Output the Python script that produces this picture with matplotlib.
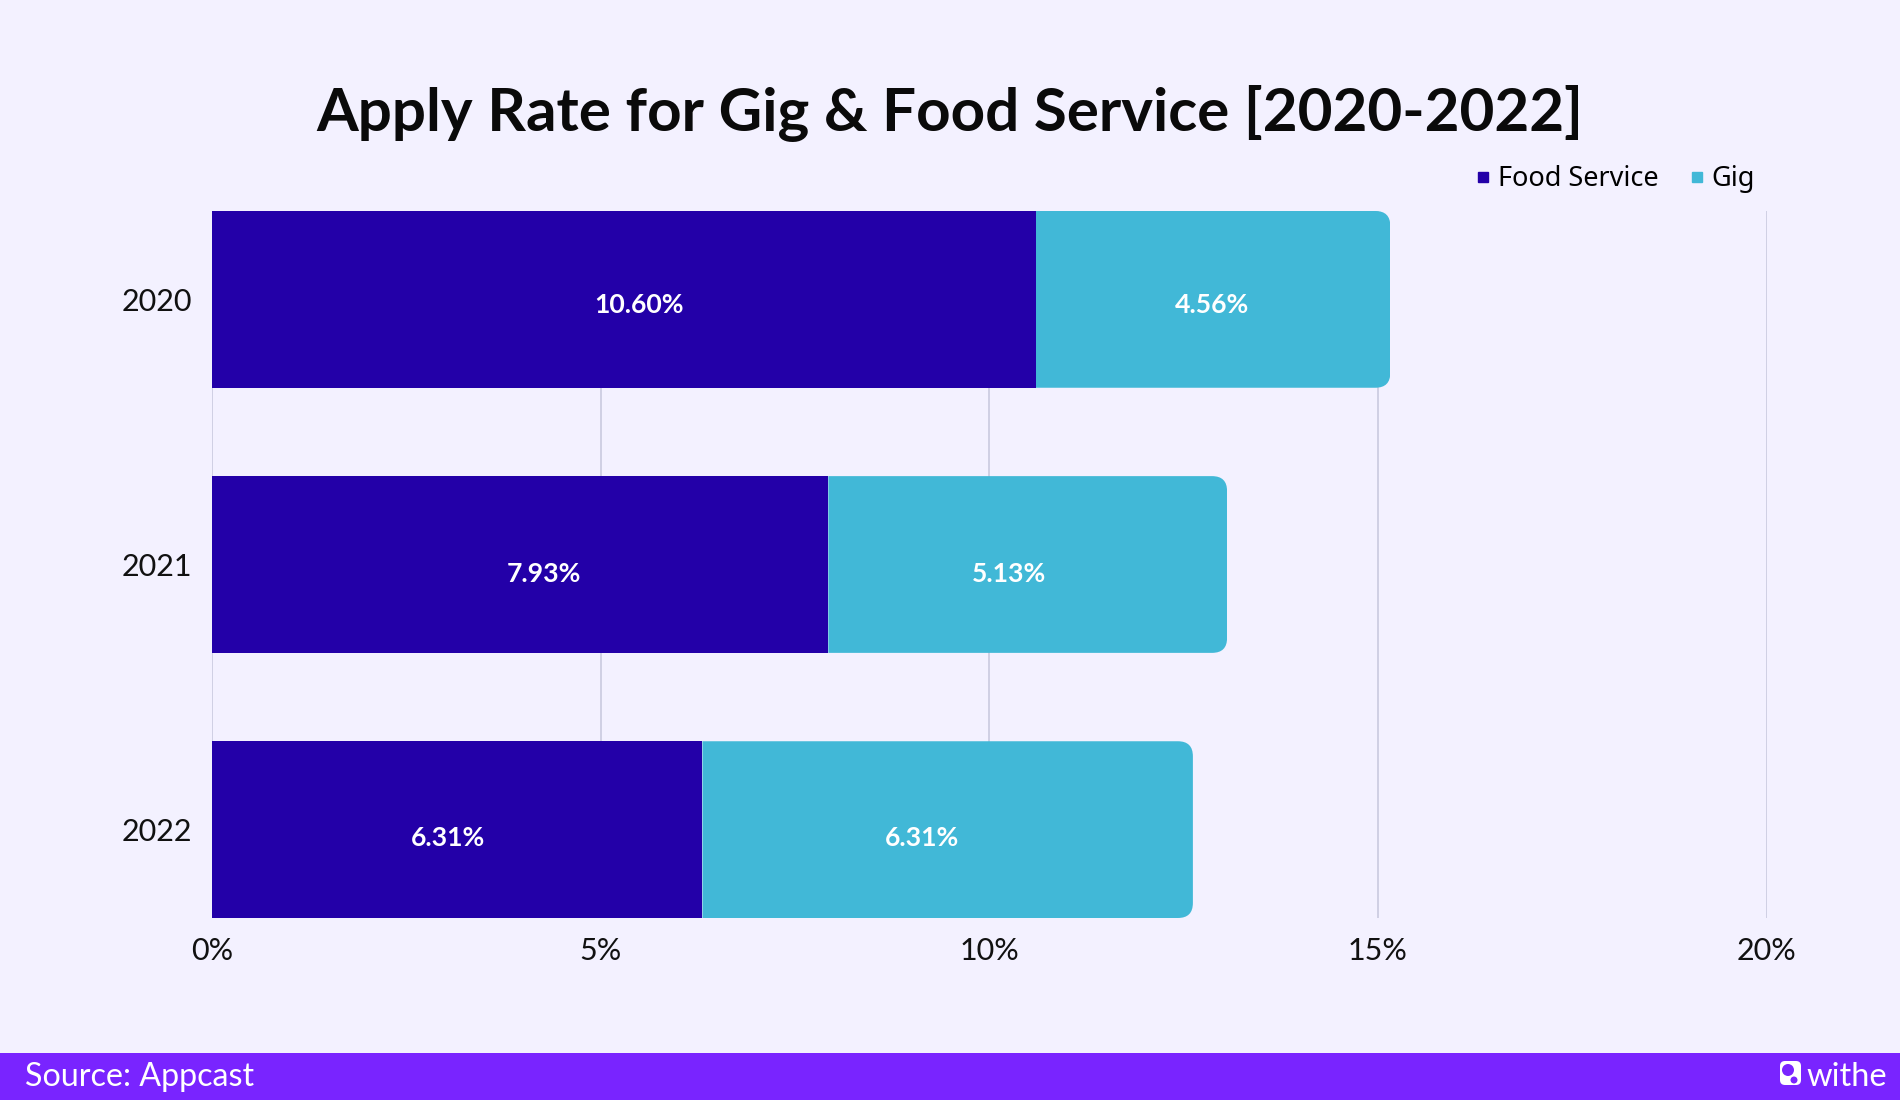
import matplotlib
matplotlib.use('Agg')
import matplotlib.pyplot as plt
from matplotlib.lines import Line2D
from matplotlib.patches import FancyBboxPatch, Rectangle, Circle
from matplotlib.path import Path
from matplotlib.transforms import IdentityTransform

years = ['2020', '2021', '2022']
food_service = [10.60, 7.93, 6.31]
gig = [4.56, 5.13, 6.31]
xticks = [0, 5, 10, 15, 20]
xticklabels = ['0%', '5%', '10%', '15%', '20%']

# the labels in the original are not centred in their bars
food_label_x = [5.49, 4.27, 3.04]
gig_label_x = [12.86, 10.25, 9.14]
label_dy = [0.023, 0.037, 0.032]

W, H = 1900, 1100
BG = '#F3F1FF'
DARK = '#2300A8'
LIGHT = '#41B8D7'
BAND = '#7924FF'
GRID = '#CDCDE2'

fig = plt.figure(figsize=(W/100, H/100), dpi=100, facecolor=BG)
ax = fig.add_axes([212/W, 1-918/H, (1766.5-212)/W, (918-211)/H], facecolor='none')

ypos = range(len(years))
bars1 = ax.barh(ypos, food_service, height=2/3, color=DARK, zorder=3)
bars2 = ax.barh(ypos, gig, left=food_service, height=2/3, color=LIGHT, zorder=3)
ax.set_xlim(0, 20)
ax.set_ylim(2+1/3, -1/3)
ax.set_xticks(xticks)
ax.set_xticklabels(xticklabels, family='Lato', fontsize=22, color='#111111')
ax.set_yticks(list(ypos))
ax.set_yticklabels(years, family='Lato', fontsize=22, color='#111111')
ax.tick_params(length=0)
ax.tick_params(axis='x', pad=14)
ax.tick_params(axis='y', pad=14)
ax.grid(axis='x', color=GRID, lw=1.3, zorder=0)
ax.set_axisbelow(True)
for s in ax.spines.values():
    s.set_visible(False)


# right end of the stack has round corners, clip the bars to get them
def round_right(bar, r=15):
    (x0, y0), (x1, y1) = ax.transData.transform([(bar.get_x(), bar.get_y()),
                                                  (bar.get_x()+bar.get_width(), bar.get_y()+bar.get_height())])
    y0, y1 = min(y0, y1), max(y0, y1)
    verts = [(x0, y0), (x1-r, y0), (x1, y0), (x1, y0+r), (x1, y1-r), (x1, y1), (x1-r, y1), (x0, y1), (x0, y0)]
    codes = [Path.MOVETO, Path.LINETO, Path.CURVE3, Path.CURVE3, Path.LINETO, Path.CURVE3, Path.CURVE3, Path.LINETO, Path.CLOSEPOLY]
    bar.set_clip_path(Path(verts, codes), IdentityTransform())


for b in bars2:
    round_right(b)

for i in ypos:
    ax.text(food_label_x[i], i+label_dy[i], '%.2f%%' % food_service[i], color='white', ha='center', va='center',
            family='Lato', weight='bold', fontsize=19.2, zorder=5)
    ax.text(gig_label_x[i], i+label_dy[i], '%.2f%%' % gig[i], color='white', ha='center', va='center',
            family='Lato', weight='bold', fontsize=19.2, zorder=5)

fig.text(950/W, 1-113/H, 'Apply Rate for Gig & Food Service [2020-2022]', ha='center', va='center',
         family='Lato', weight='bold', fontsize=43.25, color='#0A0A0A')

handles = [Line2D([], [], ls='none', marker='s', ms=7, color=DARK),
           Line2D([], [], ls='none', marker='s', ms=7, color=LIGHT)]
fig.legend(handles, ['Food Service', 'Gig'], ncol=2, frameon=False, loc='center right',
           bbox_to_anchor=(1755/W, 1-179/H), prop={'family': 'Noto Sans', 'size': 19.5},
           handlelength=0.6, handletextpad=0.25, columnspacing=1.12, borderaxespad=0, borderpad=0)

# footer band and logo
fig.add_artist(Rectangle((0, 0), 1, 47.5/H, transform=fig.transFigure, color=BAND, lw=0))
fig.text(25/W, 1-1077/H, 'Source: Appcast', ha='left', va='center', family='Lato', fontsize=23.2, color='white')
fig.text(1887/W, 1-1077/H, 'withe', ha='right', va='center', family='Lato', fontsize=23.5, color='white')
fig.add_artist(FancyBboxPatch((1780, 15), 21, 24, boxstyle='round,pad=0,rounding_size=5',
                              transform=IdentityTransform(), fc='white', ec='none'))
fig.add_artist(Circle((1788, 30), 6, transform=IdentityTransform(), fc=BAND, ec='none'))
fig.add_artist(Circle((1794, 20), 3.5, transform=IdentityTransform(), fc=BAND, ec='none'))

fig.savefig('out.png', dpi=100, facecolor=BG)
